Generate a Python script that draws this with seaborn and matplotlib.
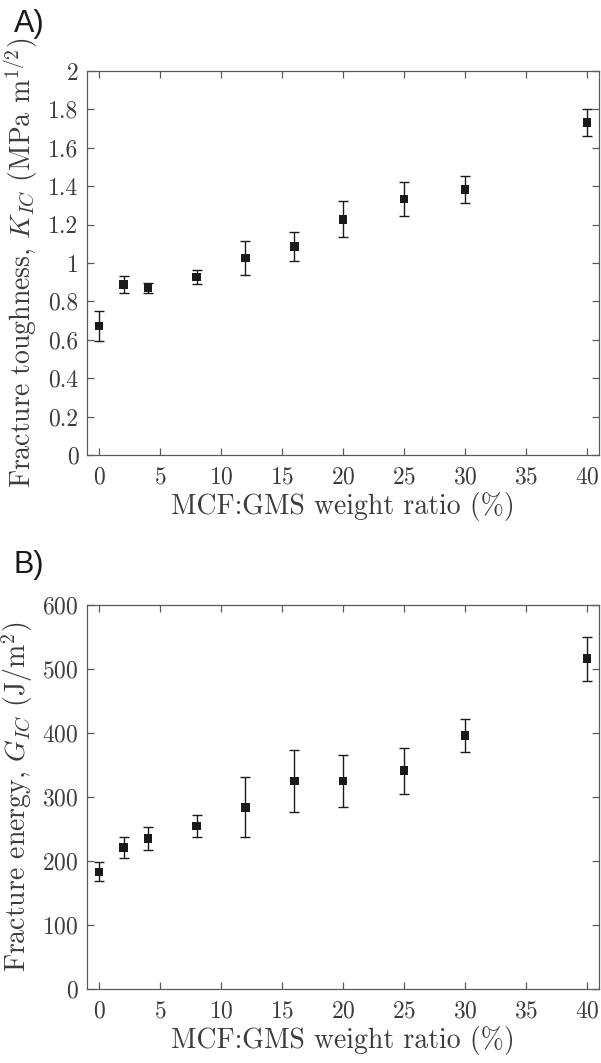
import numpy as np
import pandas as pd
import matplotlib
matplotlib.use("Agg")
import matplotlib.pyplot as plt
import seaborn as sns

# data
ratio = [0, 2, 4, 8, 12, 16, 20, 25, 30, 40]
k_ic = [0.672, 0.887, 0.871, 0.927, 1.027, 1.087, 1.228, 1.333, 1.382, 1.731]
k_err = [0.076, 0.044, 0.025, 0.035, 0.087, 0.075, 0.095, 0.089, 0.070, 0.070]
g_ic = [183, 221, 235, 255, 284, 325, 325, 341, 396, 516]
g_err = [15, 17, 18, 17, 47, 48, 40, 36, 26, 34]

sns.set_style("ticks")
plt.rcParams["font.family"] = ["cmr10", "DejaVu Serif"]
plt.rcParams["mathtext.fontset"] = "cm"
plt.rcParams["axes.formatter.use_mathtext"] = True
txt = "#3c3c3c"
edge = "#5a5a5a"

df = pd.DataFrame({"ratio": ratio, "k": k_ic, "kerr": k_err, "g": g_ic, "gerr": g_err})

fig = plt.figure(figsize=(6.01, 10.63), dpi=100)
axA = fig.add_axes([87 / 601, 1 - 455 / 1063, 512 / 601, 384 / 1063])
axB = fig.add_axes([87 / 601, 1 - 989 / 1063, 512 / 601, 384 / 1063])

def panel(ax, col, err, ylim, yticks, ylabel):
    ax.errorbar(df["ratio"], df[col], yerr=df[err], fmt="none", ecolor="#1a1a1a",
                elinewidth=1.0, capsize=3.5, capthick=1.0, zorder=2)
    sns.scatterplot(data=df, x="ratio", y=col, marker="s", s=38, color="#1a1a1a",
                    edgecolor="none", ax=ax, zorder=3)
    ax.set_xlim(-1, 41)
    ax.set_ylim(*ylim)
    ax.set_xticks([0, 5, 10, 15, 20, 25, 30, 35, 40])
    ax.set_yticks(yticks)
    ax.tick_params(direction="in", top=True, right=True, length=5, width=0.9,
                   colors=edge, labelcolor=txt, labelsize=17)
    ax.tick_params(axis="x", pad=8)
    ax.tick_params(axis="y", pad=6)
    for s in ax.spines.values():
        s.set_visible(True)
        s.set_color(edge)
        s.set_linewidth(0.9)
    ax.set_xlabel("MCF:GMS weight ratio (%)", fontsize=20, color=txt, labelpad=3)
    ax.set_ylabel(ylabel, fontsize=20, color=txt, labelpad=5)

panel(axA, "k", "kerr", (0, 2), [0, 0.2, 0.4, 0.6, 0.8, 1, 1.2, 1.4, 1.6, 1.8, 2],
      r"Fracture toughness, $K_{IC}$ (MPa m$^{1/2}$)")
axA.set_yticklabels(["0", "0.2", "0.4", "0.6", "0.8", "1", "1.2", "1.4", "1.6", "1.8", "2"])
panel(axB, "g", "gerr", (0, 600), [0, 100, 200, 300, 400, 500, 600],
      r"Fracture energy, $G_{IC}$ (J/m$^2$)")

fig.text(14 / 601, 1 - 32 / 1063, "A)", fontsize=22, color="#1a1a1a",
         family=["Liberation Sans", "DejaVu Sans"])
fig.text(14 / 601, 1 - 573 / 1063, "B)", fontsize=22, color="#1a1a1a",
         family=["Liberation Sans", "DejaVu Sans"])

fig.savefig("out.png", dpi=100)
